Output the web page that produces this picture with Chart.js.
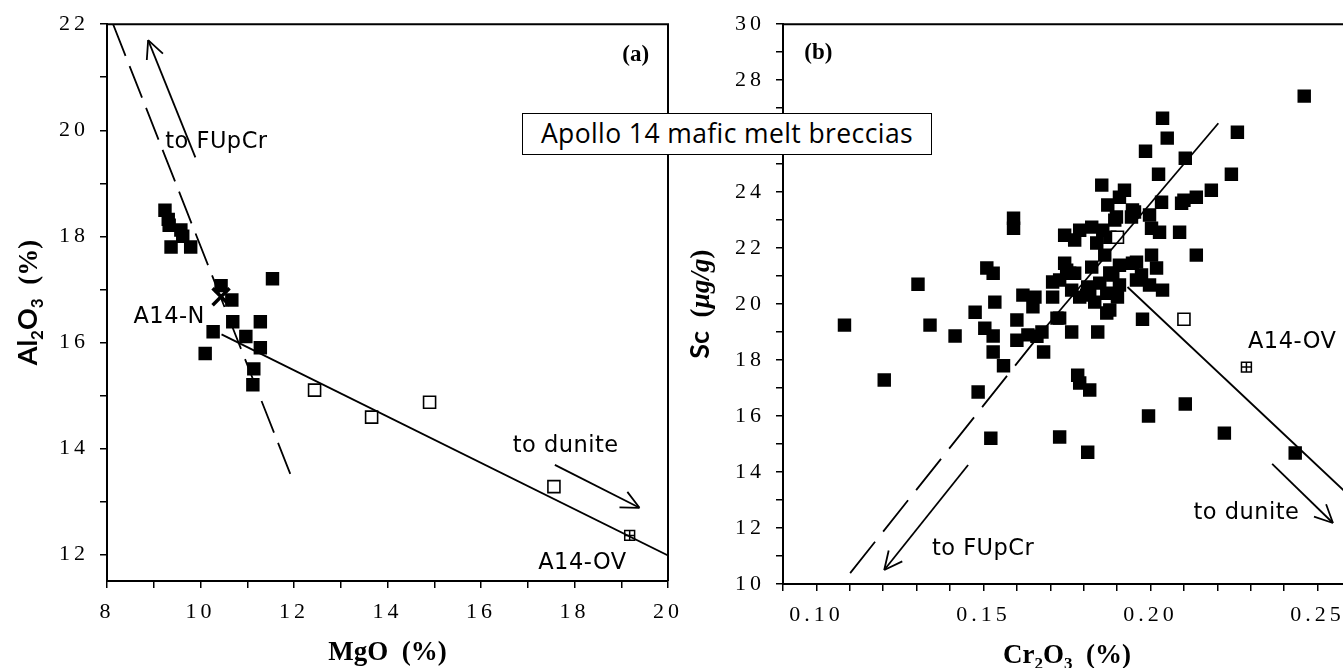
<!DOCTYPE html>
<html>
<head>
<meta charset="utf-8">
<script src="https://cdn.jsdelivr.net/npm/chart.js@4.4.0/dist/chart.umd.min.js"></script>
<style>
  html, body { margin: 0; padding: 0; background: #fff; }
  #wrap { position: relative; width: 1343px; height: 668px; overflow: hidden; }
  canvas { position: absolute; top: 0; }
  #cvA { left: 0; }
  #cvB { left: 680px; }
  #banner {
    position: absolute; left: 522px; top: 113px; width: 410px; height: 42px;
    box-sizing: border-box; border: 1.5px solid #000; background: #fff;
    font: 26.5px "Open Sans", sans-serif; letter-spacing: 0.4px; color: #000;
    text-align: center; line-height: 39px; white-space: nowrap;
  }
</style>
</head>
<body>
<div id="wrap">
  <canvas id="cvA" width="690" height="668"></canvas>
  <canvas id="cvB" width="700" height="668"></canvas>
  <div id="banner">Apollo 14 mafic melt breccias</div>
</div>
<script>
// ---- panel (a): MgO vs Al2O3 ----
const mgoMafic = [9.24, 9.31, 9.33, 9.58, 9.62, 9.37, 9.79, 10.44, 11.54, 10.67, 10.69, 11.28, 10.27, 10.97, 11.28, 10.10, 11.14, 11.12];
const alMafic  = [18.49, 18.32, 18.21, 18.12, 18.00, 17.80, 17.80, 17.07, 17.20, 16.80, 16.39, 16.39, 16.20, 16.11, 15.90, 15.79, 15.50, 15.20];
const mgoOther = [12.44, 13.66, 14.90, 17.56];
const alOther  = [15.10, 14.59, 14.87, 13.28];
const mgoOV = [19.18], alOV = [12.36];
const mgoN = [10.44], alN = [16.86];
// line end points [x, y]
const aFupcrLine   = [[8.13, 22.0], [11.92, 13.52]];
const aDuniteLine  = [[10.45, 16.15], [20.0, 11.98]];
const aFupcrArrow  = [[9.89, 19.49], [8.88, 21.7]];
const aDuniteArrow = [[17.58, 13.69], [19.39, 12.88]];

// ---- panel (b): Cr2O3 vs Sc ----
const crMafic = [0.1084, 0.1203, 0.1304, 0.1340, 0.1415, 0.1475, 0.1484, 0.1504, 0.1510, 0.1529,
  0.1522, 0.1529, 0.1534, 0.1529, 0.1560, 0.1590, 0.1590, 0.1600, 0.1600, 0.1618,
  0.1654, 0.1648, 0.1633, 0.1660, 0.1680, 0.1675, 0.1707, 0.1743, 0.1758, 0.1707,
  0.1720, 0.1764, 0.1743, 0.1773, 0.1728, 0.1782, 0.1788, 0.1818, 0.1812, 0.1842,
  0.1764, 0.2036, 0.2260, 0.2050, 0.1985, 0.2104, 0.2024, 0.2242, 0.1854, 0.2182,
  0.1922, 0.1907, 0.2137, 0.2100, 0.2093, 0.1872, 0.2033, 0.1952, 0.1898, 0.1997,
  0.1943, 0.2003, 0.2027, 0.2087, 0.2137, 0.2003, 0.2018, 0.2036, 0.1997, 0.1973,
  0.1958, 0.1976, 0.2104, 0.1994, 0.2221, 0.2433, 0.2460, 0.1788, 0.1824, 0.1857,
  0.1839, 0.1878, 0.1893, 0.1863, 0.1824, 0.1749, 0.1728, 0.1773, 0.1907, 0.1887,
  0.1848, 0.1818, 0.1907, 0.1869, 0.1833, 0.1878, 0.1809, 0.1946, 0.1958, 0.1901,
  0.1869, 0.1728, 0.1812, 0.1878, 0.1788, 0.1946];
const scMafic = [19.25, 17.29, 20.71, 19.25, 18.86, 19.71, 16.86, 19.14, 21.29, 21.10,
  15.21, 18.29, 20.07, 18.86, 17.80, 23.07, 22.71, 19.43, 18.71, 20.32,
  20.25, 19.90, 18.90, 18.85, 18.29, 19.00, 20.79, 21.46, 21.10, 20.25,
  19.50, 20.50, 22.46, 22.29, 15.25, 17.46, 17.18, 16.93, 14.71, 19.00,
  19.00, 26.64, 26.14, 25.93, 25.46, 25.21, 24.64, 24.64, 24.25, 24.07,
  24.07, 23.82, 23.82, 23.71, 23.60, 23.54, 23.64, 23.29, 23.11, 23.18,
  23.11, 22.71, 22.57, 22.57, 21.75, 21.75, 21.29, 20.50, 20.68, 21.04,
  21.50, 19.46, 16.43, 16.00, 15.39, 14.68, 27.43, 22.64, 22.75, 22.64,
  22.18, 22.39, 23.00, 21.75, 21.32, 21.21, 20.86, 21.10, 21.39, 21.04,
  20.75, 20.50, 20.68, 20.39, 20.07, 19.79, 20.32, 21.46, 20.86, 20.25,
  19.68, 19.50, 20.61, 21.11, 20.25, 23.36];
const crOther = [0.2100, 0.1901];
const scOther = [19.46, 22.39];
const crOV = [0.2287], scOV = [17.75];
const bFupcrLine   = [[0.1101, 10.39], [0.1688, 19.2]];
const bUpperLine   = [[0.1688, 19.2], [0.2203, 26.46]];
const bDuniteLine  = [[0.1931, 20.61], [0.26, 13.1]];
const bFupcrArrow  = [[0.1454, 14.25], [0.1203, 10.5]];
const bDuniteArrow = [[0.2364, 14.29], [0.2546, 12.18]];

const serif = '"Liberation Serif", "Times New Roman", serif';
const noteFont = '22.5px "DejaVu Sans", sans-serif';
const tickFont = { family: serif, size: 22 };

const pts = (xs, ys) => xs.map((x, i) => ({ x, y: ys[i] }));
const pairs = arr => arr.map(([x, y]) => ({ x, y }));

function lineSet(arr, dash, arrow) {
  return { data: pairs(arr), showLine: true, pointRadius: 0, borderColor: '#000', borderWidth: 1.8,
           borderDash: dash || [], arrowHead: !!arrow, fill: false };
}

function markerSets(filled, open, ov, extra) {
  return [
    ...extra,
    { data: ov, pointStyle: 'cross', pointRadius: 5, borderColor: '#000', borderWidth: 1.5 },
    { data: ov, pointStyle: 'rect', pointRadius: 7, backgroundColor: '#fff', borderColor: '#000', borderWidth: 1.5 },
    { data: open, pointStyle: 'rect', pointRadius: 8.5, backgroundColor: '#fff', borderColor: '#000', borderWidth: 1.6 },
    { data: filled, pointStyle: 'rect', pointRadius: 9.5, backgroundColor: '#000', borderColor: '#000', borderWidth: 0 }
  ];
}

function linScale(min, max, step, label, fit) {
  return {
    type: 'linear', min, max,
    afterBuildTicks: s => {
      s.ticks = s.ticks.filter(t => Math.abs(t.value / step - Math.round(t.value / step)) < 1e-6);
    },
    afterFit: fit,
    ticks: { stepSize: step, autoSkip: false, maxRotation: 0, font: tickFont, color: '#000', padding: 11, callback: label },
    grid: { drawOnChartArea: false, drawTicks: true, tickLength: 7, color: '#000', lineWidth: 1.5 },
    border: { display: true, color: '#000', width: 2 }
  };
}

// wide-set tick numerals, plain text elsewhere
const spacing = {
  id: 'spacing',
  beforeDraw(chart) { chart.ctx.letterSpacing = '4px'; },
  beforeDatasetsDraw(chart) { chart.ctx.letterSpacing = '0px'; }
};

const frame = {
  id: 'frame',
  beforeDatasetsDraw(chart) {
    const { ctx, chartArea: a } = chart;
    ctx.save();
    ctx.strokeStyle = '#000';
    ctx.lineWidth = 2;
    ctx.beginPath();
    ctx.moveTo(a.left, a.top);
    ctx.lineTo(a.right, a.top);
    ctx.lineTo(a.right, a.bottom);
    ctx.stroke();
    ctx.restore();
  }
};

const arrowHeads = {
  id: 'arrowHeads',
  afterDatasetsDraw(chart) {
    const ctx = chart.ctx;
    chart.data.datasets.forEach((ds, i) => {
      if (!ds.arrowHead) return;
      const el = chart.getDatasetMeta(i).data;
      const a = el[el.length - 2], b = el[el.length - 1];
      const ang = Math.atan2(b.y - a.y, b.x - a.x);
      ctx.save();
      ctx.strokeStyle = '#000';
      ctx.lineWidth = ds.borderWidth;
      ctx.beginPath();
      [-1, 1].forEach(s => {
        ctx.moveTo(b.x, b.y);
        ctx.lineTo(b.x - 20 * Math.cos(ang + s * 0.45), b.y - 20 * Math.sin(ang + s * 0.45));
      });
      ctx.stroke();
      ctx.restore();
    });
  }
};

function notes(items) {
  return {
    id: 'notes',
    afterDraw(chart) {
      const { ctx, scales } = chart;
      ctx.save();
      ctx.fillStyle = '#000';
      ctx.textAlign = 'center';
      ctx.textBaseline = 'middle';
      items.forEach(n => {
        ctx.letterSpacing = n.font ? '0px' : '0.5px';
        ctx.font = n.font || noteFont;
        ctx.fillText(n.text, scales.x.getPixelForValue(n.x), scales.y.getPixelForValue(n.y));
      });
      ctx.restore();
    }
  };
}

// axis titles with subscripts; segs = [text, font, dy]
function drawRich(ctx, segs, x, y, vertical) {
  ctx.save();
  ctx.letterSpacing = '0px';
  ctx.translate(x, y);
  if (vertical) ctx.rotate(-Math.PI / 2);
  ctx.fillStyle = '#000';
  ctx.textBaseline = 'alphabetic';
  ctx.textAlign = 'left';
  let w = 0;
  const ws = segs.map(([t, f]) => { ctx.font = f; const m = ctx.measureText(t).width; w += m; return m; });
  let cx = -w / 2;
  segs.forEach(([t, f, dy], i) => { ctx.font = f; ctx.fillText(t, cx, dy || 0); cx += ws[i]; });
  ctx.restore();
}

function titles(xSegs, xBase, ySegs, yBase) {
  return {
    id: 'titles',
    afterDraw(chart) {
      const a = chart.chartArea;
      drawRich(chart.ctx, xSegs, (a.left + a.right) / 2, xBase, false);
      drawRich(chart.ctx, ySegs, yBase, (a.top + a.bottom) / 2, true);
    }
  };
}

const bSerif = 'bold 27px ' + serif;
const bSub = 'bold 17px ' + serif;
const bSans = 'bold 27px Lato, sans-serif';
const bSansSub = 'bold 17px Lato, sans-serif';

const baseOpts = {
  responsive: false,
  animation: false,
  devicePixelRatio: 1,
  plugins: { legend: { display: false }, tooltip: { enabled: false } }
};

new Chart(document.getElementById('cvA'), {
  type: 'scatter',
  data: {
    datasets: markerSets(pts(mgoMafic, alMafic), pts(mgoOther, alOther), pts(mgoOV, alOV), [
      lineSet(aFupcrLine, [34, 11]),
      lineSet(aDuniteLine),
      lineSet(aFupcrArrow, null, true),
      lineSet(aDuniteArrow, null, true),
      { data: pts(mgoN, alN), pointStyle: 'crossRot', pointRadius: 12, borderColor: '#000', borderWidth: 3.5 }
    ])
  },
  options: Object.assign({}, baseOpts, {
    layout: { padding: { top: 21, right: 13, bottom: 0, left: 0 } },
    scales: {
      x: linScale(8, 20, 1, v => (v % 2 === 0 ? v : ''), s => { s.height = 87; }),
      y: linScale(11.5, 22, 1, v => (v % 2 === 0 ? v : ''), s => { s.width = 107; })
    }
  }),
  plugins: [spacing, frame, arrowHeads,
    notes([
      { text: '(a)', x: 19.31, y: 21.42, font: 'bold 23px ' + serif },
      { text: 'to FUpCr', x: 10.34, y: 19.77 },
      { text: 'A14-N', x: 9.33, y: 16.48 },
      { text: 'to dunite', x: 17.81, y: 14.05 },
      { text: 'A14-OV', x: 18.17, y: 11.83 }
    ]),
    titles([['MgO  (%)', bSerif]], 660,
           [['Al', bSans], ['2', bSansSub, 6], ['O', bSans], ['3', bSansSub, 6], ['  (%)', bSerif]], 37)]
});

new Chart(document.getElementById('cvB'), {
  type: 'scatter',
  data: {
    datasets: markerSets(pts(crMafic, scMafic), pts(crOther, scOther), pts(crOV, scOV), [
      lineSet(bFupcrLine, [40, 13]),
      lineSet(bUpperLine),
      lineSet(bDuniteLine),
      lineSet(bFupcrArrow, null, true),
      lineSet(bDuniteArrow, null, true)
    ])
  },
  options: Object.assign({}, baseOpts, {
    layout: { padding: { top: 24, right: 29, bottom: 0, left: 0 } },
    scales: {
      x: linScale(0.09, 0.26, 0.01, v => (Math.round(v * 100) % 5 === 0 ? v.toFixed(2) : ''), s => { s.height = 84; }),
      y: linScale(10, 30, 1, v => (v % 2 === 0 ? v : ''), s => { s.width = 103; })
    }
  }),
  plugins: [spacing, frame, arrowHeads,
    notes([
      { text: '(b)', x: 0.1006, y: 28.96, font: 'bold 23px ' + serif },
      { text: 'A14-OV', x: 0.2424, y: 18.64 },
      { text: 'to dunite', x: 0.2287, y: 12.54 },
      { text: 'to FUpCr', x: 0.1499, y: 11.25 }
    ]),
    titles([['Cr', bSerif], ['2', bSub, 6], ['O', bSerif], ['3', bSub, 6], ['  (%)', bSerif]], 663,
           [['Sc', bSans], ['  (', bSerif], ['\u00b5g/g', 'bold italic 27px ' + serif], [')', bSerif]], 29)]
});
</script>
</body>
</html>
